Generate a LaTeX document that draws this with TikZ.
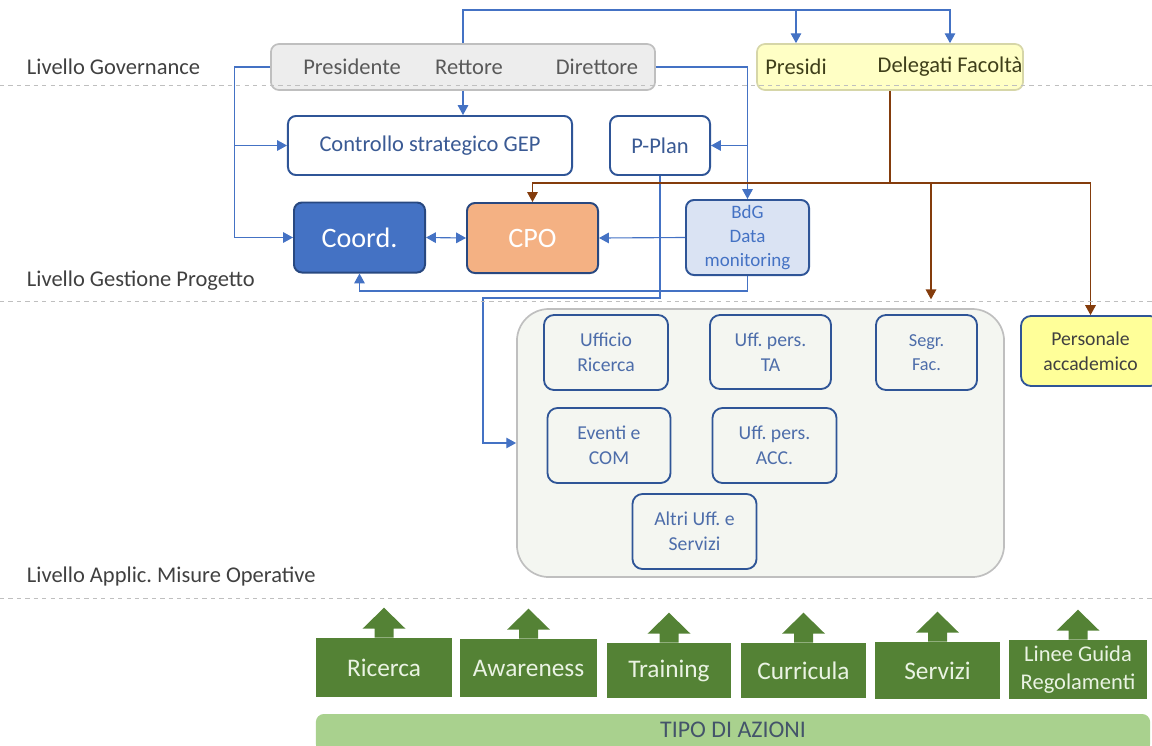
\documentclass[tikz,border=0pt]{standalone}
\usepackage{fontspec}
\setmainfont{Carlito}
\frenchspacing
\usetikzlibrary{arrows.meta}

\definecolor{linkblue}{HTML}{4472C4}
\definecolor{boxblue}{HTML}{2F5597}
\definecolor{txtblue}{HTML}{3A5A94}
\definecolor{offblue}{HTML}{4D6DAA}
\definecolor{linkbrown}{HTML}{843C0C}
\definecolor{govfill}{HTML}{EDEDED}
\definecolor{govline}{HTML}{BFBFBF}
\definecolor{facfill}{HTML}{FFFFC5}
\definecolor{facline}{HTML}{D6D6A8}
\definecolor{factxt}{HTML}{3F3F1A}
\definecolor{coordfill}{HTML}{4472C4}
\definecolor{cpofill}{HTML}{F4B183}
\definecolor{bdgfill}{HTML}{DAE3F3}
\definecolor{contfill}{HTML}{F4F6F1}
\definecolor{persfill}{HTML}{FFFF99}
\definecolor{actgreen}{HTML}{548235}
\definecolor{acttxt}{HTML}{EAF3E3}
\definecolor{tipofill}{HTML}{A9D18E}
\definecolor{tipotxt}{HTML}{44546A}

\begin{document}
\begin{tikzpicture}[x=0.025cm, y=-0.025cm,
    level/.style={anchor=west, text=black!75, font=\fontsize{16}{19}\selectfont},
    bar/.style={rectangle, rounded corners=0.2cm, line width=1.2pt, inner sep=0pt},
    govtext/.style={text=black!65, font=\fontsize{16}{19}\selectfont},
    ctrlbox/.style={rectangle, draw=boxblue, line width=1.4pt, fill=white, rounded corners=0.2cm, text=txtblue, font=\fontsize{16}{19}\selectfont, inner sep=0pt},
    bigbox/.style={rectangle, draw=boxblue!85!black, line width=1.4pt, rounded corners=0.2cm, text=white, font=\fontsize{20}{24}\selectfont, inner sep=0pt},
    office/.style={rectangle, draw=boxblue, line width=1.3pt, fill=contfill, rounded corners=0.25cm, text=offblue, align=center, font=\fontsize{14}{18}\selectfont, inner sep=0pt},
    action/.style={rectangle, fill=actgreen, text=acttxt, align=center, font=\fontsize{18}{21}\selectfont, inner sep=0pt},
    conn/.style={draw=linkblue, line width=0.8pt, -{Triangle[length=7pt,width=7.5pt]}},
    brn/.style={draw=linkbrown, line width=0.8pt, -{Triangle[length=7pt,width=7.5pt]}},
    sep/.style={draw=govline, dashed, line width=0.6pt}
]
\useasboundingbox (0,0) rectangle (1152,745);

% Level labels
\node[level] (lgov) at (22,67) {Livello Governance};
\node[level] (lgest) at (22,281) {Livello Gestione Progetto};
\node[level] (lappl) at (22,576) {Livello Applic. Misure Operative};

% Governance
\node[bar, draw=govline, fill=govfill, minimum width=9.6cm, minimum height=1.15cm] (gov) at (463,67) {};
\node[govtext] (pres) at (352,67) {Presidente};
\node[govtext] (rett) at (469,67) {Rettore};
\node[govtext] (dir) at (597,67) {Direttore};

\node[bar, draw=facline, fill=facfill, minimum width=6.65cm, minimum height=1.15cm] (fac) at (890,67) {};
\node[govtext, text=factxt] (presidi) at (796,67) {Presidi};
\node[govtext, text=factxt] (deleg) at (950,67) {Delegati Facoltà};

% Gestione progetto
\node[ctrlbox, minimum width=7.1cm, minimum height=1.475cm] (ctrl) at (430,145.5) {Controllo strategico GEP};
\node[ctrlbox, minimum width=2.5cm, minimum height=1.475cm] (pplan) at (660,145.5) {P-Plan};
\node[bigbox, fill=coordfill, minimum width=3.275cm, minimum height=1.75cm] (coord) at (359.5,237.5) {Coord.};
\node[bigbox, fill=cpofill, minimum width=3.275cm, minimum height=1.75cm] (cpo) at (532.5,238) {CPO};
\node[ctrlbox, fill=bdgfill, text=linkblue, align=center, font=\fontsize{13.5}{17}\selectfont, minimum width=3.075cm, minimum height=1.875cm] (bdg) at (747.5,237.5) {BdG\\Data\\monitoring};

% Misure operative
\node[rectangle, draw=govline, line width=1.2pt, fill=contfill, rounded corners=0.8cm, minimum width=12.175cm, minimum height=6.7cm] (cont) at (760.5,443) {};
\node[office, minimum width=3.1cm, minimum height=1.875cm] (uffric) at (606,352.5) {Ufficio\\Ricerca};
\node[office, minimum width=3.025cm, minimum height=1.85cm] (uffta) at (770.5,352) {Uff. pers.\\TA};
\node[office, font=\fontsize{13}{17}\selectfont, minimum width=2.525cm, minimum height=1.875cm] (segr) at (926.5,352.5) {Segr.\\Fac.};
\node[office, minimum width=3.075cm, minimum height=1.875cm] (eventi) at (609,445.5) {Eventi e\\COM};
\node[office, minimum width=3.1cm, minimum height=1.875cm] (uffacc) at (774.5,445.5) {Uff. pers.\\ACC.};
\node[office, minimum width=3.1cm, minimum height=1.875cm] (altri) at (694.5,531.5) {Altri Uff. e\\Servizi};
\node[office, fill=persfill, text=black!75, minimum width=3.475cm, minimum height=1.75cm] (pers) at (1090.5,351) {Personale\\accademico};

% Tipo di azioni
\node[action, minimum width=3.4cm, minimum height=1.475cm] (ric) at (384,667.5) {Ricerca};
\node[action, minimum width=3.425cm, minimum height=1.45cm] (awa) at (528.5,668) {Awareness};
\node[action, minimum width=3.1cm, minimum height=1.375cm] (tra) at (669,670.5) {Training};
\node[action, minimum width=3.125cm, minimum height=1.375cm] (cur) at (803.5,670.5) {Curricula};
\node[action, minimum width=3.125cm, minimum height=1.425cm] (ser) at (937.5,670.5) {Servizi};
\node[action, font=\fontsize{16}{20}\selectfont, minimum width=3.45cm, minimum height=1.475cm] (lin) at (1078,669.5) {Linee Guida\\Regolamenti};
\foreach \b in {ric,awa,tra,cur,ser,lin}
  \fill[actgreen] (\b.north) ++(-9.5,0) -- ++(0,-9) -- ++(-12,0) -- ++(21.5,-21) -- ++(21.5,21) -- ++(-12,0) -- ++(0,9) -- cycle;
\node[rectangle, fill=tipofill, rounded corners=0.2cm, minimum width=20.85cm, minimum height=0.95cm] (tipo) at (733,733) {};
\node[text=tipotxt, font=\fontsize{17}{20}\selectfont] (tipotext) at (733,730) {TIPO DI AZIONI};

% Arrows governance
\coordinate (bus) at (463,10);
\draw[conn] (gov.north) -- (bus) -| (fac.north -| deleg);
\draw[conn] (bus -| presidi) -- (fac.north -| presidi);
\draw[conn] (gov.south) -- (ctrl.north -| gov.south);
\draw[conn] (gov.west) -- ++(-36,0) |- (ctrl.west);
\draw[conn] (gov.west) -- ++(-36,0) |- (coord.west);
\draw[conn] (gov.east) -| (bdg.north);
\draw[conn] (gov.east -| bdg.north) |- (pplan.east);

% Arrows gestione
\draw[conn, {Triangle[length=7pt,width=7.5pt]}-{Triangle[length=7pt,width=7.5pt]}] (coord.east) -- (cpo.west);
\draw[conn] (bdg.west) -- (cpo.east);
\draw[conn] (bdg.south) -- ++(0,15) -| (coord.south);
\draw[conn] (pplan.south) |- (483,298) |- (cont.west);

% Arrows facolta
\coordinate (fork) at (890,183);
\draw[brn] (fac.south) -- (fork) -| (cpo.north);
\draw[brn] (fork) -| (pers.north);
\draw[brn, shorten >=0.22cm] (fork -| 931,0) -- (cont.north -| 931,0);

% Level separators
\draw[sep] (0,85) -- (1152,85);
\draw[sep] (0,301) -- (1152,301);
\draw[sep] (0,598) -- (1152,598);

\end{tikzpicture}
\end{document}
